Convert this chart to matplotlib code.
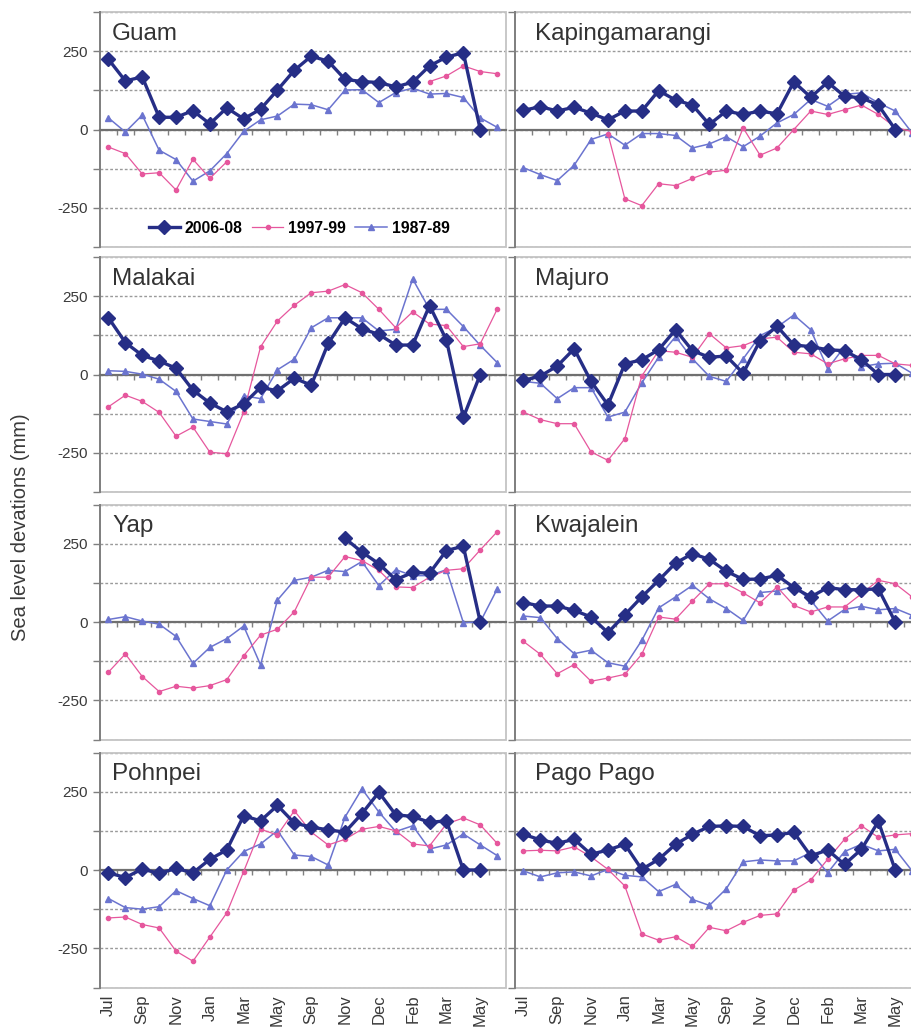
import numpy as np
import matplotlib.pyplot as plt
from matplotlib.patches import Rectangle

nan = np.nan

plt.rcParams['font.family'] = ['Liberation Sans', 'DejaVu Sans']

stations = ["Guam", "Kapingamarangi", "Malakai", "Majuro",
            "Yap", "Kwajalein", "Pohnpei", "Pago Pago"]
month_labels = ["Jul", "Sep", "Nov", "Jan", "Mar", "May",
                "Sep", "Nov", "Dec", "Feb", "Mar", "May"]
series_names = ["2006-08", "1997-99", "1987-89"]

# monthly sea level deviations (mm), 24 months from July
guam_0608 = [224, 155, 168, 39, 39, 60, 18, 69, 34, 65, 126, 189,
             234, 218, 160, 153, 150, 136, 151, 203, 231, 245, 0, nan]
guam_9799 = [-56, -77, -142, -138, -193, -95, -156, -103, nan, nan, nan, nan,
             nan, nan, nan, nan, nan, nan, nan, 153, 171, 203, 185, 178]
guam_8789 = [37, -8, 46, -66, -96, -165, -132, -77, -6, 31, 43, 81,
             79, 63, 126, 127, 86, 118, 132, 113, 115, 102, 37, 7]

kapi_0608 = [61, 73, 59, 71, 52, 31, 59, 59, 124, 94, 78, 16,
             59, 48, 59, 50, 152, 103, 151, 106, 101, 78, 0, nan]
kapi_9799 = [nan, nan, nan, nan, nan, -14, -221, -243, -173, -179, -156, -136,
             -130, 5, -82, -59, 0, 59, 48, 63, 78, 48, 7, -7]
kapi_8789 = [-122, -144, -163, -114, -32, -14, -50, -13, -13, -19, -59, -46,
             -23, -55, -21, 21, 48, 96, 74, 112, 117, 85, 59, -11]

mala_0608 = [181, 102, 61, 43, 20, -50, -91, -119, -94, -41, -52, -12,
             -34, 99, 181, 146, 128, 94, 94, 220, 110, -137, 0, nan]
mala_9799 = [-103, -66, -86, -121, -197, -168, -248, -253, -121, 88, 171, 221,
             261, 266, 287, 261, 208, 149, 200, 161, 156, 89, 98, 208]
mala_8789 = [12, 10, 1, -15, -54, -142, -150, -158, -68, -77, 15, 49,
             149, 181, 181, 181, 139, 144, 305, 208, 208, 153, 93, 38]

maju_0608 = [-19, -5, 27, 82, -22, -97, 34, 47, 79, 143, 76, 55,
             59, 4, 108, 154, 94, 89, 79, 76, 47, 0, 0, nan]
maju_9799 = [-120, -144, -157, -157, -247, -274, -205, -5, 76, 71, 55, 130,
             85, 92, 114, 119, 71, 66, 34, 50, 61, 61, 34, 29]
maju_8789 = [-22, -28, -77, -42, -42, -136, -120, -27, 55, 121, 50, -6,
             -22, 50, 124, 151, 190, 143, 18, 89, 25, 34, 36, 4]

yap_0608 = [nan, nan, nan, nan, nan, nan, nan, nan, nan, nan, nan, nan,
            nan, nan, 267, 223, 186, 135, 158, 156, 228, 242, 0, nan]
yap_9799 = [-160, -102, -174, -222, -205, -211, -203, -184, -108, -42, -23, 33,
            143, 143, 209, 196, 165, 112, 110, 143, 165, 170, 230, 288]
yap_8789 = [8, 17, 3, -7, -46, -132, -81, -53, -13, -137, 70, 133,
            143, 165, 161, 193, 116, 167, 148, 148, 167, -2, 0, 105]

kwaj_0608 = [62, 51, 51, 37, 16, -34, 23, 80, 133, 188, 218, 200,
             162, 136, 137, 149, 110, 80, 110, 103, 103, 106, 0, nan]
kwaj_9799 = [-62, -103, -165, -136, -189, -179, -167, -103, 16, 9, 67, 122,
             122, 93, 61, 112, 53, 32, 48, 48, 90, 133, 122, 80]
kwaj_8789 = [19, 14, -53, -101, -90, -130, -141, -59, 45, 80, 117, 74,
             43, 5, 94, 99, 114, 69, 3, 40, 50, 39, 43, 21]

pohn_0608 = [-9, -24, 3, -11, 5, -9, 34, 64, 173, 157, 206, 150,
             137, 128, 121, 180, 248, 176, 171, 152, 157, 0, 0, nan]
pohn_9799 = [-153, -150, -174, -185, -259, -291, -214, -137, -5, 130, 112, 189,
             121, 80, 98, 130, 139, 125, 83, 77, 147, 166, 144, 85]
pohn_8789 = [-91, -120, -125, -117, -66, -91, -114, 0, 59, 83, 126, 48,
             43, 16, 169, 259, 185, 123, 141, 67, 80, 115, 80, 46]

pago_0608 = [114, 96, 85, 98, 50, 64, 82, 2, 34, 82, 114, 139,
             141, 139, 109, 112, 120, 45, 64, 18, 66, 155, 0, nan]
pago_9799 = [61, 63, 61, 74, 42, 2, -51, -204, -224, -213, -244, -183,
             -194, -167, -145, -140, -64, -32, 34, 98, 141, 104, 112, 116]
pago_8789 = [-3, -22, -9, -6, -19, 2, -17, -22, -69, -46, -94, -113,
             -60, 26, 32, 29, 29, 56, -9, 59, 82, 61, 66, -3]

data = {
    "Guam": (guam_0608, guam_9799, guam_8789),
    "Kapingamarangi": (kapi_0608, kapi_9799, kapi_8789),
    "Malakai": (mala_0608, mala_9799, mala_8789),
    "Majuro": (maju_0608, maju_9799, maju_8789),
    "Yap": (yap_0608, yap_9799, yap_8789),
    "Kwajalein": (kwaj_0608, kwaj_9799, kwaj_8789),
    "Pohnpei": (pohn_0608, pohn_9799, pohn_8789),
    "Pago Pago": (pago_0608, pago_9799, pago_8789),
}

# line styles for 2006-08, 1997-99, 1987-89
styles = [
    dict(color="#262e86", lw=2.4, marker="D", ms=6.8, zorder=5),
    dict(color="#e6579d", lw=0.9, marker="o", ms=3.0, zorder=4),
    dict(color="#6b74cf", lw=1.1, marker="^", ms=4.2, zorder=4),
]

W, H = 912, 1028
fig = plt.figure(figsize=(W / 100, H / 100), dpi=100)

col_x = [100, 515]
title_x = [0.03, 0.049]
row_top = [12, 257, 504.5, 752.5]
ax_w, ax_h = 405.6, 235

GRAY = "#7f7f7f"
for i, name in enumerate(stations):
    r, c = divmod(i, 2)
    left = col_x[c] / W
    bottom = 1 - (row_top[r] + ax_h) / H
    ax = fig.add_axes([left, bottom, ax_w / W, ax_h / H])

    vals = data[name]
    x = np.arange(len(vals[0]))
    lines = []
    for k in (2, 1, 0):
        y = np.array(vals[k], dtype=float)
        ln, = ax.plot(x, y, label=series_names[k], **styles[k])
        lines.append(ln)

    ax.set_xlim(-0.5, len(x) - 0.5)
    ax.set_ylim(-375, 375)

    # y axis
    yt = np.arange(-375, 376, 125)
    ax.set_yticks(yt)
    if c == 0:
        ax.set_yticklabels(["", "-250", "", "0", "", "250", ""])
    else:
        ax.set_yticklabels([])
    ax.tick_params(axis="y", direction="out", length=5, width=1, color=GRAY,
                   labelsize=11, labelcolor="#3a3a3a", pad=4)
    ax.yaxis.grid(True, ls=(0, (2.0, 1.5)), color="#9a9a9a", lw=1)
    ax.set_axisbelow(True)

    # x axis drawn on the zero line, ticks between categories
    ax.spines["bottom"].set_position(("data", 0))
    ax.spines["bottom"].set_color("#707070")
    ax.spines["bottom"].set_linewidth(1.6)
    ax.spines["bottom"].set_zorder(3)
    ax.set_xticks(np.arange(0.5, len(x) - 0.5, 1))
    ax.tick_params(axis="x", direction="out", length=3.5, width=1, color=GRAY,
                   labelbottom=False)
    ax.spines["left"].set_color(GRAY)
    ax.spines["left"].set_linewidth(1.4)
    ax.spines["top"].set_visible(False)
    ax.spines["right"].set_visible(False)
    ax.add_patch(Rectangle((0, 0), 1, 1, transform=ax.transAxes, fill=False,
                           ec="#c4c4c4", lw=1.3, clip_on=False, zorder=0.6))

    ax.text(title_x[c], 0.955, name, transform=ax.transAxes, ha="left",
            va="top", fontsize=17.5, color="#333333", zorder=6)

    if r == 3:
        sec = ax.secondary_xaxis("bottom")
        sec.set_xticks(x[::2], month_labels)
        sec.tick_params(length=0, pad=5, labelsize=12, labelcolor="#3a3a3a",
                        labelrotation=90)
        sec.spines["bottom"].set_visible(False)

    if i == 0:
        handles = lines[::-1]
        ax.legend(handles=handles, labels=[h.get_label() for h in handles],
                  loc="center left", bbox_to_anchor=(0.12, 0.08), ncol=3,
                  frameon=False, handlelength=2.0, handletextpad=0.3,
                  columnspacing=0.6, borderpad=0, borderaxespad=0,
                  prop=dict(weight="bold", size=11.3))

fig.text(0.023, 0.487, "Sea level devations (mm)", rotation=90, ha="center",
         va="center", fontsize=14.5, color="#3a3a3a")

fig.savefig("out.png", dpi=100)
